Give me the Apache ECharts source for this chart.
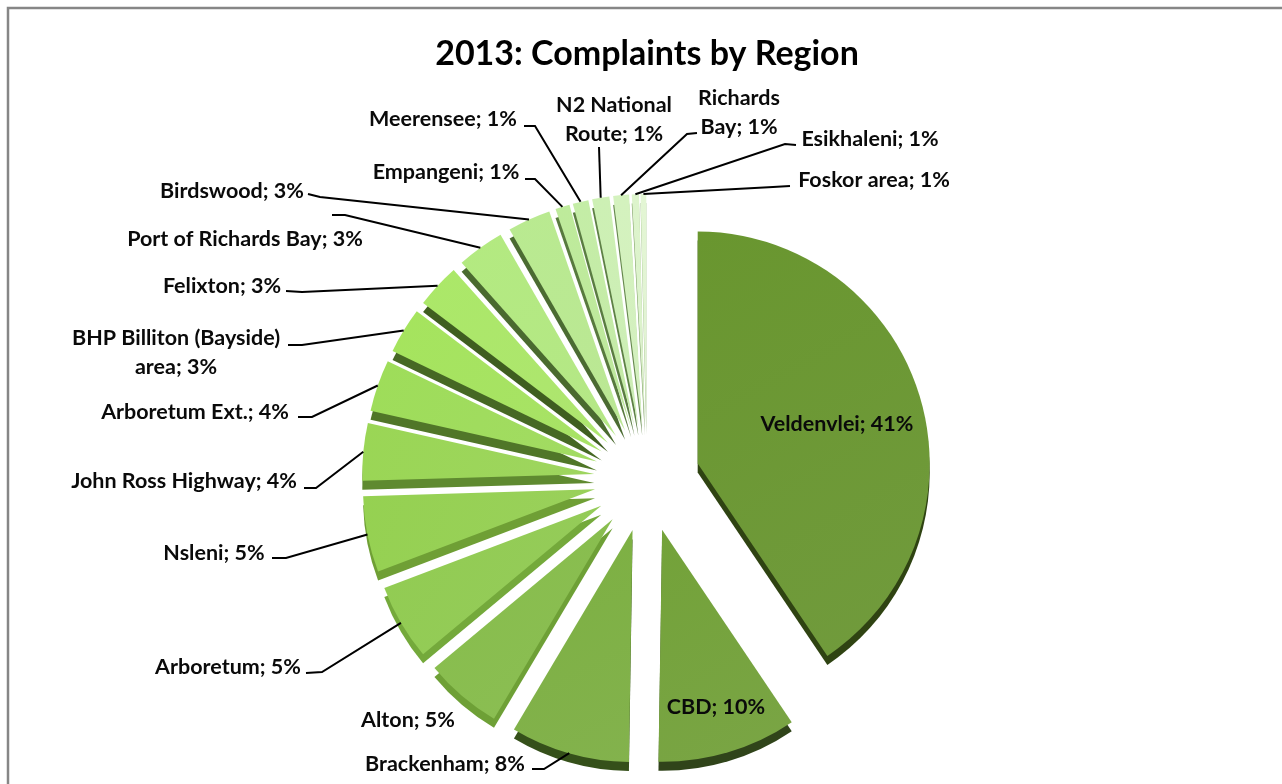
<!DOCTYPE html>
<html>
<head>
<meta charset="utf-8">
<style>html,body{margin:0;padding:0;background:#fff}#c{width:1282px;height:784px}</style>
<script src="https://cdn.jsdelivr.net/npm/echarts@6/dist/echarts.min.js"></script>
</head>
<body>
<div id="c"></div>
<script>
const regions = ["Veldenvlei","CBD","Brackenham","Alton","Arboretum","Nsleni","John Ross Highway","Arboretum Ext.","BHP Billiton (Bayside) area","Felixton","Port of Richards Bay","Birdswood","Empangeni","Meerensee","N2 National Route","Richards Bay","Esikhaleni","Foskor area"];
const shares = [40.6,9.7,8.3,5.4,5.3,5.3,4.0,3.6,3.2,3.1,3.3,3.0,1.0,1.1,1.2,1.1,0.5,0.4];
const labelTexts = ["Veldenvlei; 41%","CBD; 10%","Brackenham; 8%","Alton; 5%","Arboretum; 5%","Nsleni; 5%","John Ross Highway; 4%","Arboretum Ext.; 4%","BHP Billiton (Bayside)\narea; 3%","Felixton; 3%","Port of Richards Bay; 3%","Birdswood; 3%","Empangeni; 1%","Meerensee; 1%","N2 National\nRoute; 1%","Richards\nBay; 1%","Esikhaleni; 1%","Foskor area; 1%"];
const faceColors = ["#67942f","#719f38","#7aad40","#84ba49","#8fc850","#93cd50","#97d254","#9bd958","#a2e05c","#a8e466","#b0e67e","#b6e68e","#bbe798","#c1e9a3","#c9ecb1","#d0eebb","#d9f0c8","#dff2d0"];
const sideColors = ["#2f4312","#30441a","#35501a","#6ea036","#74a93b","#6f9f35","#5f8a30","#507628","#466824","#3f5e20","#4a6a2f","#4b6b32","#587a3e","#5a7c42","#5e8046","#66884e","#7a9a60","#9ab884"];

const CX = 647, CY = 479, R = 232, EXPLODE = 53, DEPTH = 9, RIM_R = 285;
const labelCenters = [[837,424],[716,707],[445,764],[408,720],[228,667],[214,553],[184,481],[195,412],[176,353],[222,286],[245,239],[232,191],[446,172],[443,119],[614,120],[739,113],[870,139],[874,180]];
const leaderBends = [null,null,[[544,769],[532,769]],null,[[322,672],[306,673]],[[286,558],[272,558]],[[316,488],[304,488]],[[312,417],[298,417]],[[302,345],[288,345]],[[302,292],[286,291]],[[345,215],[332,215]],[[320,197],[308,194]],[[535,179],[525,179]],[[535,126],[524,126]],[[599,147],[599,147]],[[687,134],[697,133]],[[785,144],[796,145]],[[773,187],[790,186]]];

const chart = echarts.init(document.getElementById('c'), null, {renderer:'canvas'});
const grad = c => ({type:'linear',x:0,y:0,x2:1,y2:1,colorStops:[{offset:0,color:echarts.color.lift(c,-0.02)},{offset:1,color:echarts.color.lift(c,0.07)}]});
const makeData = (colorOf, selected) => regions.map((n,i)=>({name:n,value:shares[i],selected,itemStyle:{color:colorOf(i)}}));

chart.setOption({
  animation:false,
  backgroundColor:'#fff',
  title:{text:'2013: Complaints by Region',left:642,top:32,textAlign:'center',textStyle:{fontFamily:'Lato',fontWeight:'bold',fontSize:34,color:'#000'}},
  graphic:[{type:'rect',silent:true,shape:{x:8,y:8,width:1300,height:800},style:{fill:'none',stroke:'#868686',lineWidth:2.5}}],
  series:[
    {type:'pie',name:'depth',silent:true,center:[CX,CY+DEPTH],radius:[0,R],startAngle:90,clockwise:true,selectedMode:'multiple',selectedOffset:EXPLODE,z:1,label:{show:false},labelLine:{show:false},data:makeData(i=>sideColors[i],true)},
    {type:'pie',name:'faces',silent:true,center:[CX,CY],radius:[0,R],startAngle:90,clockwise:true,selectedMode:'multiple',selectedOffset:EXPLODE,z:2,label:{show:false},labelLine:{show:false},data:makeData(i=>grad(faceColors[i]),true)},
    {type:'pie',name:'labels',silent:true,center:[CX,CY],radius:[0,RIM_R],startAngle:90,clockwise:true,z:3,avoidLabelOverlap:false,minShowLabelAngle:0,
      itemStyle:{color:'rgba(0,0,0,0)'},
      label:{show:true,position:'outside',color:'#0a0a0a',fontFamily:'Lato',fontWeight:'bold',fontSize:21.5,lineHeight:29,formatter:p=>labelTexts[p.dataIndex]},
      labelLine:{show:true,length:10,length2:10,lineStyle:{color:'#000',width:2}},
      labelLayout:p=>{
        const i=p.dataIndex, c=labelCenters[i], b=leaderBends[i];
        const out={x:c[0],y:c[1],align:'center',verticalAlign:'middle'};
        if(b&&p.labelLinePoints) out.labelLinePoints=[p.labelLinePoints[0],b[0],b[1]];
        return out;
      },
      data:regions.map((n,i)=>({name:n,value:shares[i],itemStyle:{color:'rgba(0,0,0,0)'},labelLine:{show:!!leaderBends[i]}}))
    }
  ]
});
</script>
</body>
</html>
